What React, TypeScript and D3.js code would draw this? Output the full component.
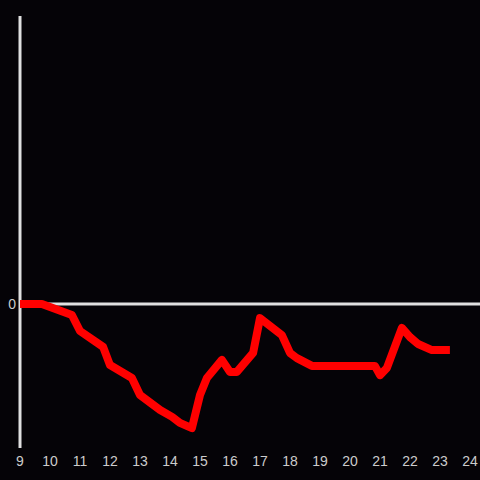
import React from "react";
import * as d3 from "d3";

const hours = [9, 9.73, 10.73, 11.0, 11.77, 12.0, 12.73, 13.0, 13.67, 14.07, 14.33, 14.73, 15.0, 15.23, 15.73, 16.0, 16.23, 16.77, 17.0, 17.73, 18.0, 18.23, 18.73, 20.83, 21.0, 21.23, 21.73, 22.0, 22.27, 22.73, 23.33];
const values = [0, 0, -3.8, -9.4, -14.9, -21.2, -25.7, -31.6, -36.8, -39.2, -41.3, -43.1, -31.6, -25.7, -19.4, -23.6, -23.6, -17.0, -4.9, -10.8, -17.0, -18.8, -21.5, -21.5, -24.7, -22.2, -8.3, -11.5, -13.9, -16.0, -16.0];
const xTicks = [9, 10, 11, 12, 13, 14, 15, 16, 17, 18, 19, 20, 21, 22, 23, 24];
const yTicks = [0];

export default function App() {
  const W = 480, H = 480;
  const x = d3.scaleLinear().domain([9, 24]).range([20, 470]);
  const y = d3.scaleLinear().domain([-50, 100]).range([448, 16]);
  const data = hours.map((h, i) => [h, values[i]] as [number, number]);
  const line = d3.line<[number, number]>().x(d => x(d[0])).y(d => y(d[1]));
  const axisColor = "#e0e0e0";
  const font = "'Liberation Sans', Arial, sans-serif";
  return (
    <svg width={W} height={H} style={{ position: "fixed", left: 0, top: 0, background: "#050307" }}>
      <rect x={0} y={0} width={W} height={H} fill="#050307" />
      <line x1={x(9)} x2={W} y1={y(0)} y2={y(0)} stroke={axisColor} strokeWidth={3} />
      <line x1={x(9)} x2={x(9)} y1={y(100)} y2={y(-50)} stroke={axisColor} strokeWidth={3} />
      <path d={line(data) || ""} fill="none" stroke="#ff0000" strokeWidth={8} strokeLinejoin="round" />
      {xTicks.map(t => (
        <text key={t} x={x(t)} y={461} textAnchor="middle" dominantBaseline="central" fill="#cccccc" fontSize={14} fontFamily={font}>{t}</text>
      ))}
      {yTicks.map(t => (
        <text key={t} x={16} y={y(t)} textAnchor="end" dominantBaseline="central" fill="#cccccc" fontSize={14} fontFamily={font}>{t}</text>
      ))}
    </svg>
  );
}
